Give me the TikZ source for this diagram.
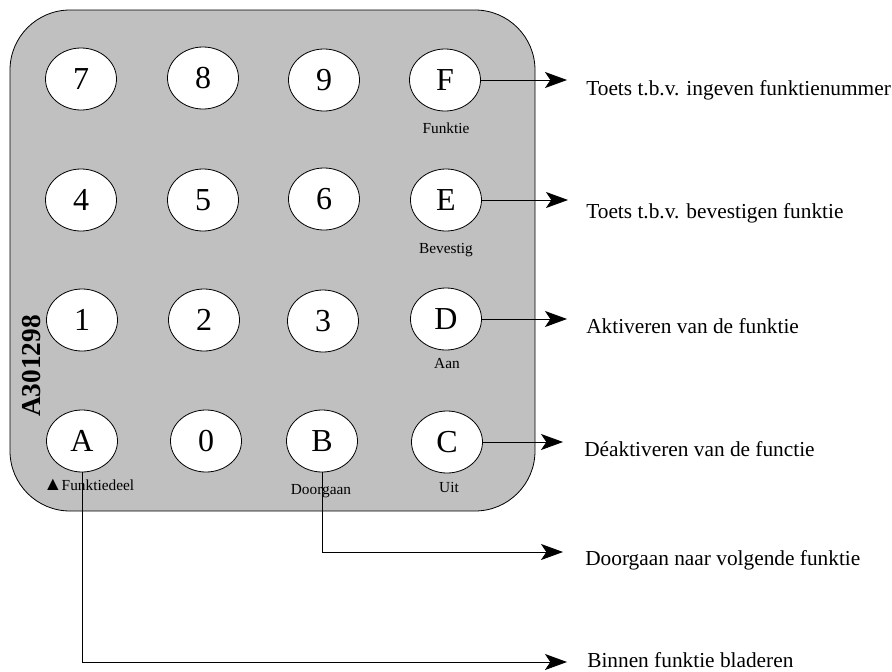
\documentclass[tikz,border=0pt]{standalone}
\usepackage{fontspec}
\setmainfont{Liberation Serif}
\usetikzlibrary{shapes.geometric,arrows.meta}
\definecolor{panelgray}{HTML}{C0C0C0}
\tikzset{
  keybtn/.style={ellipse,draw=black,fill=white,line width=0.6pt,minimum width=53.25pt,minimum height=46.5pt,inner sep=0pt,font=\fontsize{24}{24}\selectfont},
  smalllbl/.style={inner sep=0pt,anchor=base,font=\fontsize{11.5}{12}\selectfont},
  desc/.style={inner sep=0pt,anchor=base west,font=\fontsize{16}{18}\selectfont},
  arr/.style={line width=0.6pt,-{Stealth[length=16.5pt,width=12pt,inset=4pt]}}
}
\begin{document}
\begin{tikzpicture}[x=0.75pt,y=-0.75pt]
\useasboundingbox (0,0) rectangle (892,671);
% panel
\draw[fill=panelgray,line width=0.6pt,rounded corners=45pt] (10,10) rectangle (535,511);
% keys
\node[keybtn] (k7) at (81,79) {7};
\node[keybtn] (k8) at (203,78) {8};
\node[keybtn] (k9) at (324,80) {9};
\node[keybtn] (kF) at (445,80) {F};
\node[keybtn] (k4) at (81,200) {4};
\node[keybtn] (k5) at (203,200) {5};
\node[keybtn] (k6) at (324,199) {6};
\node[keybtn] (kE) at (446,200) {E};
\node[keybtn] (k1) at (82,320) {1};
\node[keybtn] (k2) at (204,320) {2};
\node[keybtn] (k3) at (323,321) {3};
\node[keybtn] (kD) at (446,319) {D};
\node[keybtn] (kA) at (82,441) {A};
\node[keybtn] (k0) at (206,441) {0};
\node[keybtn] (kB) at (322,441) {B};
\node[keybtn] (kC) at (447,442) {C};
% small labels
\node[smalllbl] (lF) at (446,133) {Funktie};
\node[smalllbl] (lE) at (446,253) {Bevestig};
\node[smalllbl] (lD) at (447,368) {Aan};
\node[smalllbl,anchor=base west] (lA) at (43,490) {{\fontsize{14.5}{14.5}\selectfont ▲}\kern-0.5pt Funktiedeel};
\node[smalllbl] (lB) at (321,494) {Doorgaan};
\node[smalllbl] (lC) at (449,492) {Uit};
% serial
\node[rotate=90,inner sep=0pt,font=\bfseries\fontsize{20.5}{21}\selectfont] (serial) at (31.5,366) {A301298};
% descriptions
\node[desc] (dF) at (586,95) {Toets t.b.v. ingeven funktienummer};
\node[desc] (dE) at (586,218) {Toets t.b.v. bevestigen funktie};
\node[desc] (dD) at (586,333) {Aktiveren van de funktie};
\node[desc] (dC) at (584,456) {Déaktiveren van de functie};
\node[desc] (dB) at (585,565) {Doorgaan naar volgende funktie};
\node[desc] (dA) at (587,667) {Binnen funktie bladeren};
% arrow tips
\coordinate (tF) at (567,0);
\coordinate (tE) at (568,0);
\coordinate (tD) at (567,0);
\coordinate (tC) at (563,0);
\coordinate (tB) at (563,552);
\coordinate (tA) at (567,662);
% connectors
\draw[arr] (kF.east) -- (kF.east -| tF);
\draw[arr] (kE.east) -- (kE.east -| tE);
\draw[arr] (kD.east) -- (kD.east -| tD);
\draw[arr] (kC.east) -- (kC.east -| tC);
\draw[arr] (kB.south) |- (tB);
\draw[arr] (kA.south) |- (tA);
\end{tikzpicture}
\end{document}
